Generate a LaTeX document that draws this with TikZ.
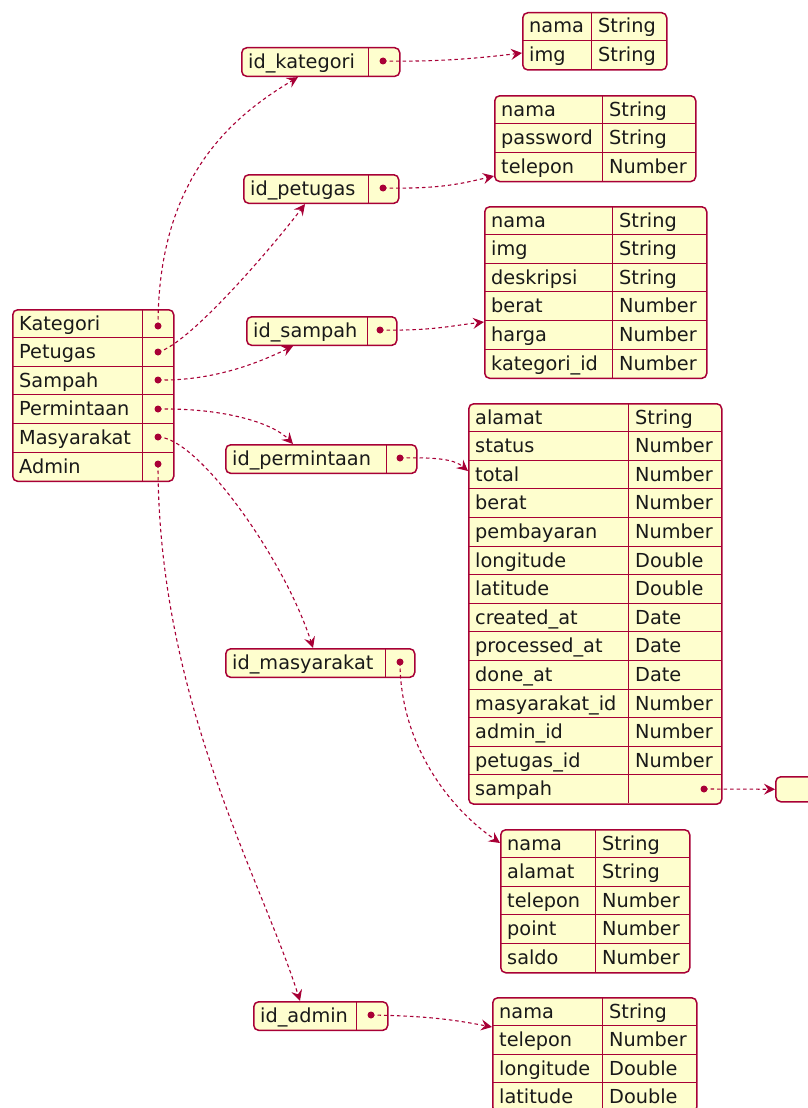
\documentclass[tikz,border=0pt]{standalone}
\usepackage{fontspec}
\setmainfont{DejaVu Sans}
\usetikzlibrary{arrows.meta}
\definecolor{umlred}{HTML}{A80036}
\definecolor{umlfill}{HTML}{FEFECE}
\newcommand\rowh{28.6}
% #1 name, #2 left, #3 top, #4 right, #5 column divider, #6 rows, #7 key/value list
\newcommand\jtab[7]{%
  \node[tablebox, minimum width={(#4-#2)*1pt}, minimum height={#6*\rowh pt},
        anchor=north west] (#1) at (#2,#3) {};
  \draw[sep] (#5,#3) -- (#5,{#3+#6*\rowh});
  \foreach \k/\v [count=\i] in {#7} {
    \ifnum\i>1
      \draw[sep] (#2,{#3+(\i-1)*\rowh}) -- (#4,{#3+(\i-1)*\rowh});
    \fi
    \node[cell] (#1-k\i) at ({#2+7},{#3+(\i-1)*\rowh+21}) {\k};
    \node[cell] (#1-v\i) at ({#5+7},{#3+(\i-1)*\rowh+21}) {\v};
  }%
}
\begin{document}
\begin{tikzpicture}[x=1pt,y=-1pt,
  tablebox/.style={draw=umlred, fill=umlfill, line width=1.5pt, rounded corners=5pt, inner sep=0pt},
  sep/.style={umlred, line width=1pt},
  cell/.style={anchor=base west, inner sep=0pt, font=\fontsize{19.3}{22}\selectfont, text=black!90},
  dotn/.style={circle, fill=umlred, inner sep=0pt, minimum size=7pt},
  link/.style={umlred, line width=1.1pt, dash pattern=on 3.5pt off 3pt,
    -{Stealth[length=11pt,width=11pt,inset=4pt]}}]
\useasboundingbox (0,0) rectangle (808,1108);

% entity list
\jtab{root}{12}{309}{173}{142}{6}{Kategori/{},Petugas/{},Sampah/{},Permintaan/{},Masyarakat/{},Admin/{}}
\node[dotn] (dk) at (158,326) {};
\node[dotn] (dp) at (158,352) {};
\node[dotn] (ds) at (158,380) {};
\node[dotn] (dpr) at (158,409) {};
\node[dotn] (dm) at (158,437) {};
\node[dotn] (da) at (158,464) {};

% id keys
\jtab{ik}{241}{47}{399}{368}{1}{id\_kategori/{}}
\node[dotn] (dik) at (383,61) {};
\jtab{ip}{243}{174}{398}{368}{1}{id\_petugas/{}}
\node[dotn] (dip) at (383,188) {};
\jtab{is}{246}{316}{396}{367}{1}{id\_sampah/{}}
\node[dotn] (dis) at (380,330) {};
\jtab{ipr}{225}{444}{416}{386}{1}{id\_permintaan/{}}
\node[dotn] (dipr) at (400,458) {};
\jtab{im}{225}{648}{414}{385}{1}{id\_masyarakat/{}}
\node[dotn] (dim) at (400,662) {};
\jtab{ia}{253}{1001}{387}{356}{1}{id\_admin/{}}
\node[dotn] (dia) at (371,1015) {};

% records
\jtab{tk}{522}{12}{666}{591}{2}{nama/String,img/String}
\jtab{tp}{494}{95}{695}{602}{3}{nama/String,password/String,telepon/Number}
\jtab{ts}{484}{206}{706}{612}{6}{nama/String,img/String,deskripsi/String,berat/Number,harga/Number,kategori\_id/Number}
\jtab{tpr}{468}{403}{721}{628}{14}{alamat/String,status/Number,total/Number,berat/Number,pembayaran/Number,longitude/Double,latitude/Double,created\_at/Date,processed\_at/Date,done\_at/Date,masyarakat\_id/Number,admin\_id/Number,petugas\_id/Number,sampah/{}}
\node[dotn] (dsp) at (704,789) {};
\jtab{tm}{500}{829}{689}{595}{5}{nama/String,alamat/String,telepon/Number,point/Number,saldo/Number}
\jtab{ta}{492}{997}{696}{602}{4}{nama/String,telepon/Number,longitude/Double,latitude/Double}
\node[tablebox, minimum width=60pt, minimum height=25pt, anchor=north west] (tx) at (775,776) {};

% links from the entity list to the id keys
\draw[link] (dk.center) .. controls (158,175) and (235,115) .. ([xshift=57pt]ik.south west);
\draw[link] (dp.center) .. controls (188,345) and (270,250) .. ([xshift=62pt]ip.south west);
\draw[link] (ds.center) .. controls (215,381) and (260,362) .. ([xshift=47pt]is.south west);
\draw[link] (dpr.center) .. controls (230,408) and (275,425) .. ([xshift=68pt]ipr.north west);
\draw[link] (dm.center) .. controls (198,437) and (285,560) .. ([xshift=88pt]im.north west);
\draw[link] (da.center) .. controls (158,700) and (262,880) .. ([xshift=47pt]ia.north west);

% links from the id keys to their records
\draw[link] (dik.center) .. controls (440,62) and (480,58) .. ([yshift=-41pt]tk.north west);
\draw[link] (dip.center) .. controls (440,189) and (460,184) .. ([yshift=-81pt]tp.north west);
\draw[link] (dis.center) .. controls (430,331) and (450,326) .. ([yshift=-116pt]ts.north west);
\draw[link] (dipr.center) .. controls (440,457) and (455,460) .. ([yshift=-68pt]tpr.north west);
\draw[link] (dim.center) .. controls (400,740) and (445,805) .. ([yshift=-14pt]tm.north west);
\draw[link] (dia.center) .. controls (430,1016) and (455,1020) .. ([yshift=-30pt]ta.north west);
\draw[link] (dsp.center) -- (tx.west);
\end{tikzpicture}
\end{document}
